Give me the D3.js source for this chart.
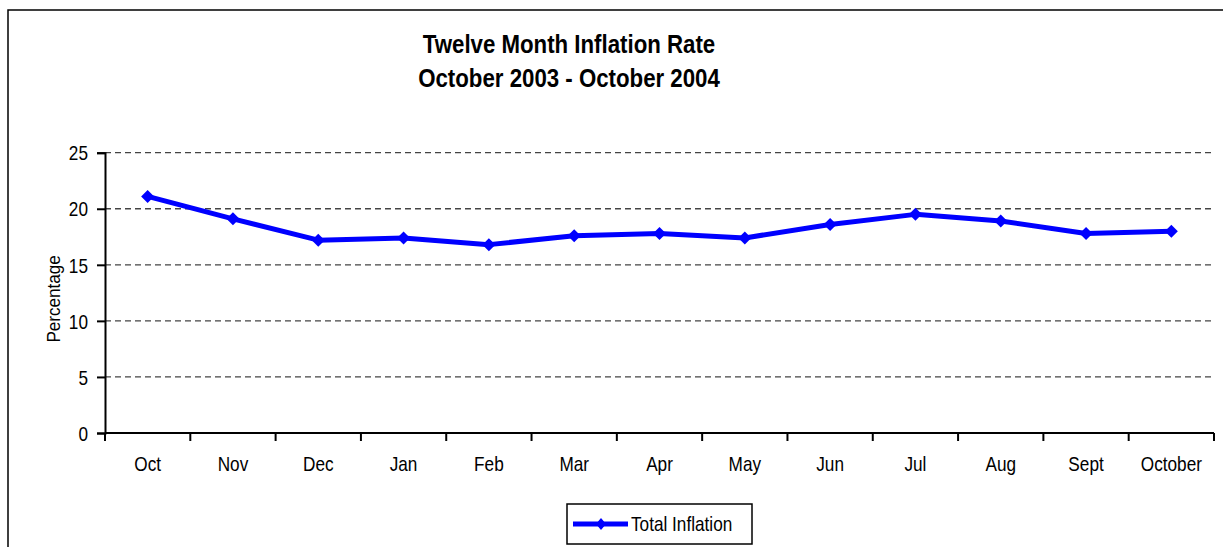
<!DOCTYPE html>
<html>
<head>
<meta charset="utf-8">
<script src="https://cdn.jsdelivr.net/npm/d3@7"></script>
<style>
  body { margin: 0; background: #fff; }
  text { font-family: "Liberation Sans", Arial, sans-serif; }
</style>
</head>
<body>
<script>
// chart data
var months = ["Oct", "Nov", "Dec", "Jan", "Feb", "Mar", "Apr", "May", "Jun", "Jul", "Aug", "Sept", "October"];
var inflation = [21.1, 19.1, 17.2, 17.4, 16.8, 17.6, 17.8, 17.4, 18.6, 19.5, 18.9, 17.8, 18.0];
var yTicks = [0, 5, 10, 15, 20, 25];
var titleLines = ["Twelve Month Inflation Rate", "October 2003 - October 2004"];
var seriesName = "Total Inflation";

var width = 1223;
var height = 547;
var plotLeft = 105, plotRight = 1214, plotTop = 152.7, plotBottom = 433;
var squeeze = "scale(0.86,1)";

var svg = d3.select("body").append("svg")
    .attr("width", width)
    .attr("height", height);

/*****************  Outer frame **********************/
svg.append("rect")
    .attr("x", 8)
    .attr("y", 10)
    .attr("width", width + 20)
    .attr("height", height + 20)
    .attr("fill", "none")
    .attr("stroke", "#000")
    .attr("stroke-width", 1.5);

/*****************  Title **********************/
svg.selectAll(".title")
    .data(titleLines)
    .enter()
    .append("text")
    .attr("class", "title")
    .attr("transform", function (d, i) {
        return "translate(569," + (53 + i * 34) + ") scale(0.89,1)";
    })
    .attr("text-anchor", "middle")
    .attr("font-size", "25px")
    .attr("font-weight", "bold")
    .text(function (d) { return d; });

/*****************  Scales **********************/
var x = d3.scaleBand()
    .domain(months)
    .range([plotLeft, plotRight])
    .padding(0);

var y = d3.scaleLinear()
    .domain([0, 25])
    .range([plotBottom, plotTop]);

/*****************  Grid lines **********************/
svg.selectAll(".grid")
    .data(yTicks.filter(function (d) { return d > 0; }))
    .enter()
    .append("line")
    .attr("class", "grid")
    .attr("x1", plotLeft)
    .attr("x2", plotRight)
    .attr("y1", function (d) { return y(d); })
    .attr("y2", function (d) { return y(d); })
    .attr("stroke", "#444")
    .attr("stroke-width", 1.3)
    .attr("stroke-dasharray", "6,4");

/*****************  Y axis **********************/
var yAxis = svg.append("g")
    .attr("transform", "translate(" + plotLeft + ",0)")
    .call(d3.axisLeft(y).tickValues(yTicks).tickSize(8).tickPadding(11.8));

yAxis.select(".domain").attr("stroke-width", 2);
yAxis.selectAll(".tick line").attr("stroke-width", 2);
yAxis.selectAll(".tick text")
    .attr("font-size", "20px")
    .attr("font-family", "Liberation Sans, Arial, sans-serif")
    .attr("fill", "#000")
    .attr("dy", "0.36em")
    .attr("transform", squeeze);

svg.append("text")
    .attr("transform", "translate(60," + ((plotTop + plotBottom) / 2 + 6) + ") rotate(-90) scale(0.95,1)")
    .attr("text-anchor", "middle")
    .attr("font-size", "18px")
    .text("Percentage");

/*****************  X axis **********************/
var xAxis = svg.append("g")
    .attr("transform", "translate(0," + plotBottom + ")")
    .call(d3.axisBottom(x).tickSize(0).tickPadding(24).tickSizeOuter(0));

xAxis.select(".domain").remove();
xAxis.selectAll(".tick text")
    .attr("font-size", "20px")
    .attr("font-family", "Liberation Sans, Arial, sans-serif")
    .attr("fill", "#000")
    .attr("transform", squeeze);

svg.append("line")
    .attr("x1", plotLeft)
    .attr("x2", plotRight)
    .attr("y1", plotBottom)
    .attr("y2", plotBottom)
    .attr("stroke", "#000")
    .attr("stroke-width", 2);

var boundaries = months.map(function (d) { return x(d); }).concat([x.range()[1]]);

svg.selectAll(".xtick")
    .data(boundaries)
    .enter()
    .append("line")
    .attr("class", "xtick")
    .attr("x1", function (d) { return d; })
    .attr("x2", function (d) { return d; })
    .attr("y1", plotBottom)
    .attr("y2", plotBottom + 8)
    .attr("stroke", "#000")
    .attr("stroke-width", 2);

/*****************  Series line **********************/
var line = d3.line()
    .x(function (d, i) { return x(months[i]) + x.bandwidth() / 2; })
    .y(function (d) { return y(d); });

svg.append("path")
    .datum(inflation)
    .attr("d", line)
    .attr("fill", "none")
    .attr("stroke", "#0000ff")
    .attr("stroke-width", 5)
    .attr("stroke-linejoin", "round");

var diamond = "M0,-6.5L6.5,0L0,6.5L-6.5,0Z";

svg.selectAll(".marker")
    .data(inflation)
    .enter()
    .append("path")
    .attr("class", "marker")
    .attr("d", diamond)
    .attr("transform", function (d, i) {
        return "translate(" + (x(months[i]) + x.bandwidth() / 2) + "," + y(d) + ")";
    })
    .attr("fill", "#0000ff");

/*****************  Legend **********************/
var legend = svg.append("g")
    .attr("transform", "translate(567,504)");

legend.append("rect")
    .attr("width", 185)
    .attr("height", 40)
    .attr("fill", "#fff")
    .attr("stroke", "#000")
    .attr("stroke-width", 1.5);

legend.append("line")
    .attr("x1", 6)
    .attr("x2", 61)
    .attr("y1", 20)
    .attr("y2", 20)
    .attr("stroke", "#0000ff")
    .attr("stroke-width", 5);

legend.append("path")
    .attr("d", "M0,-6L5,0L0,6L-5,0Z")
    .attr("transform", "translate(34,20)")
    .attr("fill", "#0000ff");

legend.append("text")
    .attr("transform", "translate(64,27) scale(0.86,1)")
    .attr("font-size", "20px")
    .text(seriesName);
</script>
</body>
</html>
